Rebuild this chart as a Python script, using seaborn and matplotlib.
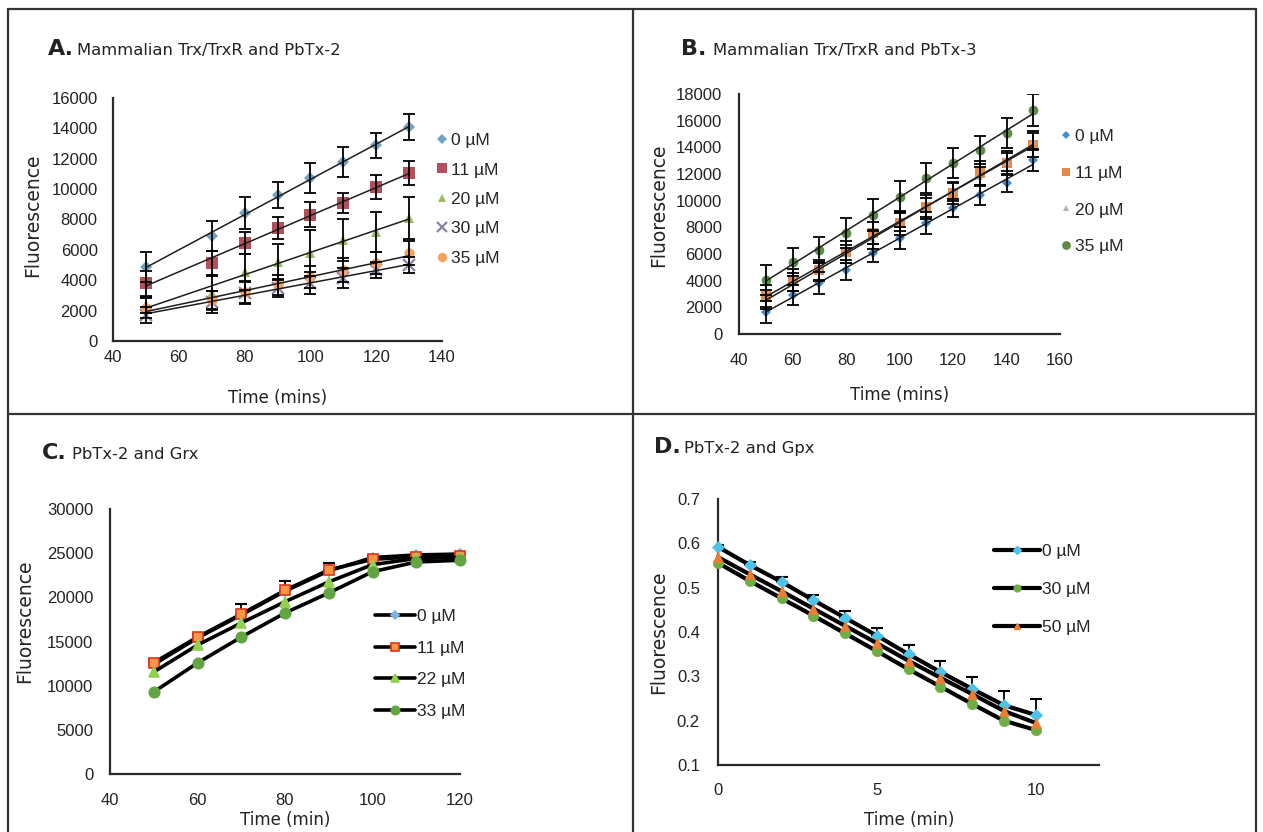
import numpy as np
import matplotlib
matplotlib.use('Agg')
import matplotlib.pyplot as plt
import seaborn as sns
from matplotlib.lines import Line2D

sns.set_style('white')
plt.rcParams['font.family'] = ['Liberation Sans', 'DejaVu Sans']

# ---- A. Mammalian Trx/TrxR and PbTx-2 ----
time_a = [50, 70, 80, 90, 100, 110, 120, 130]
labels_a = ['0 µM', '11 µM', '20 µM', '30 µM', '35 µM']
a_0uM = [4870, 6910, 8430, 9610, 10730, 11790, 12900, 14090]
a_11uM = [3810, 5130, 6450, 7440, 8300, 9090, 10140, 11060]
a_20uM = [2370, 3160, 4540, 5200, 5790, 6650, 7180, 8100]
a_30uM = [1710, 2570, 3160, 3490, 3820, 4150, 4670, 5000]
a_35uM = [2170, 2700, 3230, 3690, 4210, 4670, 5130, 5790]
a_err_0uM = [990, 960, 1050, 850, 990, 990, 820, 860]
a_err_11uM = [820, 770, 710, 710, 820, 680, 770, 820]
a_err_20uM = [500, 1150, 1200, 1200, 1540, 1370, 1310, 1370]
a_err_30uM = [550, 700, 750, 600, 700, 650, 550, 500]
a_err_35uM = [650, 600, 700, 650, 700, 800, 700, 800]

# ---- B. Mammalian Trx/TrxR and PbTx-3 ----
time_b = [50, 60, 70, 80, 90, 100, 110, 120, 130, 140, 150]
labels_b = ['0 µM', '11 µM', '20 µM', '35 µM']
b_0uM = [1650, 2930, 3820, 4800, 6070, 7200, 8320, 9450, 10420, 11320, 13050]
b_11uM = [2850, 4050, 4800, 6150, 7570, 8320, 9530, 10550, 12070, 12820, 14180]
b_20uM = [2600, 3900, 4700, 6000, 7100, 8400, 9500, 10700, 11800, 12900, 14500]
b_35uM = [4050, 5400, 6300, 7570, 8930, 10300, 11700, 12820, 13800, 15070, 16800]
b_err_0uM = [800, 750, 800, 750, 700, 800, 800, 700, 750, 700, 800]
b_err_11uM = [800, 800, 750, 800, 800, 900, 900, 800, 900, 900, 900]
b_err_20uM = [700, 700, 700, 700, 700, 700, 700, 700, 700, 700, 700]
b_err_35uM = [1150, 1050, 1000, 1100, 1200, 1150, 1100, 1100, 1050, 1150, 1200]

# ---- C. PbTx-2 and Grx ----
time_c = [50, 60, 70, 80, 90, 100, 110, 120]
labels_c = ['0 µM', '11 µM', '22 µM', '33 µM']
c_0uM = [12400, 15400, 18000, 20700, 23000, 24500, 24800, 24900]
c_11uM = [12600, 15500, 18100, 20800, 23100, 24300, 24600, 24700]
c_22uM = [11550, 14600, 17100, 19500, 21750, 23700, 24400, 24500]
c_33uM = [9290, 12570, 15500, 18230, 20500, 22900, 24000, 24200]
c_err_11uM = [300, 400, 1100, 1100, 800, 400, 300, 300]

# ---- D. PbTx-2 and Gpx ----
time_d = [0, 1, 2, 3, 4, 5, 6, 7, 8, 9, 10]
labels_d = ['0 µM', '30 µM', '50 µM']
d_0uM = [0.592, 0.551, 0.513, 0.472, 0.432, 0.392, 0.350, 0.310, 0.272, 0.235, 0.213]
d_30uM = [0.556, 0.515, 0.476, 0.437, 0.397, 0.357, 0.316, 0.277, 0.238, 0.200, 0.179]
d_50uM = [0.569, 0.530, 0.492, 0.453, 0.414, 0.375, 0.335, 0.297, 0.260, 0.222, 0.195]
d_err_0uM = [0.005, 0.008, 0.010, 0.012, 0.015, 0.018, 0.020, 0.024, 0.027, 0.032, 0.036]

W, H = 1263, 832
fig = plt.figure(figsize=(W / 100, H / 100), dpi=100)


def px_axes(l, t, r, b):
    ax = fig.add_axes([l / W, 1 - b / H, (r - l) / W, (b - t) / H])
    ax.px = (l, t, r, b)
    return ax


def to_ax(ax, px, py):
    l, t, r, b = ax.px
    return (px - l) / (r - l), (b - py) / (b - t)


def style_axes(ax, xlim, ylim, xticks, yticks, xlabel, xlab_pos, ylab_pos, xpad, ypad):
    ax.set_xlim(xlim)
    ax.set_ylim(ylim)
    ax.set_xticks(xticks)
    ax.set_yticks(yticks)
    for s in ['top', 'right']:
        ax.spines[s].set_visible(False)
    for s in ['left', 'bottom']:
        ax.spines[s].set_linewidth(1.6)
        ax.spines[s].set_color('#2a2a2a')
    ax.tick_params(length=0, labelsize=12, colors='#222222')
    ax.tick_params(axis='x', pad=xpad)
    ax.tick_params(axis='y', pad=ypad)
    ax.set_xlabel(xlabel, fontsize=12, family='DejaVu Sans', color='#222222', va='center')
    ax.set_ylabel('Fluorescence', fontsize=13.5, family='DejaVu Sans', color='#222222',
                  va='center', ha='center')
    ax.xaxis.set_label_coords(*to_ax(ax, *xlab_pos))
    ax.yaxis.set_label_coords(*to_ax(ax, *ylab_pos))
    ax.grid(False)


def panel_title(x_letter, x_text, y, letter, text):
    fig.text(x_letter / W, 1 - y / H, letter, fontsize=16, fontweight='bold',
             family='DejaVu Sans', va='baseline', color='#222222')
    fig.text(x_text / W, 1 - y / H, text, fontsize=11.8, family='DejaVu Sans',
             va='baseline', color='#222222')


def legend_at(ax, handles, labels, x, y, spacing, hlen, tpad):
    ax.legend(handles, labels, loc='upper left', bbox_to_anchor=(x / W, 1 - y / H),
              bbox_transform=fig.transFigure, frameon=False, fontsize=12.5,
              borderpad=0, borderaxespad=0, labelspacing=spacing,
              handlelength=hlen, handletextpad=tpad)


def trend_panel(ax, x, series, errs, colors, markers, sizes):
    handles = []
    for y, e, c, m, s in zip(series, errs, colors, markers, sizes):
        sns.regplot(x=x, y=y, ax=ax, scatter=False, ci=None, truncate=True,
                    color='#1e1e1e', line_kws={'lw': 1.1, 'zorder': 3})
        mew = 1.6 if m == 'x' else 0
        ax.plot(x, y, linestyle='none', marker=m, ms=s, color=c, mec=c, mew=mew, zorder=2)
        ax.errorbar(x, y, yerr=e, fmt='none', ecolor='black', elinewidth=1.3,
                    capsize=4.5, capthick=1.3, zorder=4)
        handles.append(Line2D([], [], linestyle='none', marker=m, ms=s * 0.9, color=c,
                              mec=c, mew=mew))
    return handles


# ---------------- Panel A ----------------
ax_a = px_axes(113, 98, 442, 341)
colors_a = ['#72a2bf', '#b4505a', '#9bbb59', '#8c82aa', '#f5a35e']
markers_a = ['D', 's', '^', 'x', 'o']
sizes_a = [6, 8, 7, 8, 7.5]
h_a = trend_panel(ax_a, time_a, [a_0uM, a_11uM, a_20uM, a_30uM, a_35uM],
                  [a_err_0uM, a_err_11uM, a_err_20uM, a_err_30uM, a_err_35uM],
                  colors_a, markers_a, sizes_a)
style_axes(ax_a, (40, 140), (0, 16000), range(40, 141, 20), range(0, 16001, 2000),
           'Time (mins)', (278, 398), (33, 215), 6.5, 11)
legend_at(ax_a, h_a, labels_a, 435, 133, 0.82, 0.8, 0.15)
panel_title(48, 77, 55, 'A.', 'Mammalian Trx/TrxR and PbTx-2')

# ---------------- Panel B ----------------
ax_b = px_axes(739, 94, 1060, 334)
colors_b = ['#3f8fd0', '#e38c4c', '#b3b3b3', '#5e8c46']
markers_b = ['D', 's', '^', 'o']
sizes_b = [5, 7, 5, 7]
h_b = trend_panel(ax_b, time_b, [b_0uM, b_11uM, b_20uM, b_35uM],
                  [b_err_0uM, b_err_11uM, b_err_20uM, b_err_35uM],
                  colors_b, markers_b, sizes_b)
style_axes(ax_b, (40, 160), (0, 18000), range(40, 161, 20), range(0, 18001, 2000),
           'Time (mins)', (900, 395), (659, 205), 13.5, 12)
legend_at(ax_b, h_b, labels_b, 1059, 129, 1.24, 0.8, 0.15)
panel_title(681, 713, 55, 'B.', 'Mammalian Trx/TrxR and PbTx-3')

# ---------------- Panel C ----------------
ax_c = px_axes(110, 509, 460, 774)
colors_c = ['#7fb2e3', '#f79646', '#92d050', '#63a443']
edges_c = ['#7fb2e3', '#e2341d', '#92d050', '#63a443']
markers_c = ['D', 's', '^', 'o']
sizes_c = [5, 7, 6.5, 7.5]
h_c = []
for y, fc, ec, m, s in zip([c_0uM, c_11uM, c_22uM, c_33uM], colors_c, edges_c, markers_c, sizes_c):
    sns.lineplot(x=time_c, y=y, ax=ax_c, color='black', lw=2.6, marker=m, ms=s,
                 markerfacecolor=fc, markeredgecolor=ec, markeredgewidth=1.2, zorder=3,
                 clip_on=False)
    h_c.append(Line2D([], [], color='black', lw=2.6, marker=m, ms=s * 0.8,
                      markerfacecolor=fc, markeredgecolor=ec, markeredgewidth=1.2))
ax_c.errorbar(time_c, c_11uM, yerr=[np.zeros(len(c_err_11uM)), c_err_11uM], fmt='none',
              ecolor='black', elinewidth=1.3, capsize=4.5, capthick=1.5, zorder=2)
style_axes(ax_c, (40, 120), (0, 30000), range(40, 121, 20), range(0, 30001, 5000),
           'Time (min)', (285, 820), (25, 621), 13.5, 12)
legend_at(ax_c, h_c, labels_c, 375, 609, 0.95, 2.3, 0.1)
panel_title(42, 72, 459, 'C.', 'PbTx-2 and Grx')

# ---------------- Panel D ----------------
ax_d = px_axes(718, 499, 1099, 765)
colors_d = ['#4bc3ea', '#70ad47', '#ed7d31']
markers_d = ['D', 'o', '^']
sizes_d = [6, 7.5, 7]
h_d = []
for y, c, m, s in zip([d_0uM, d_30uM, d_50uM], colors_d, markers_d, sizes_d):
    sns.lineplot(x=time_d, y=y, ax=ax_d, color='black', lw=3.0, marker=m, ms=s,
                 markerfacecolor=c, markeredgecolor=c, markeredgewidth=0.5, zorder=3,
                 clip_on=False)
    h_d.append(Line2D([], [], color='black', lw=3.0, marker=m, ms=s * 0.65,
                      markerfacecolor=c, markeredgecolor=c))
ax_d.errorbar(time_d, d_0uM, yerr=[np.zeros(len(d_err_0uM)), d_err_0uM], fmt='none',
              ecolor='black', elinewidth=1.3, capsize=4.5, capthick=1.5, zorder=2)
style_axes(ax_d, (0, 12), (0.1, 0.7), [0, 5, 10], np.round(np.arange(0.1, 0.71, 0.1), 1),
           'Time (min)', (909, 820), (659, 632), 13, 13)
legend_at(ax_d, h_d, labels_d, 994, 544, 1.31, 2.65, 0.1)
panel_title(654, 684, 453, 'D.', 'PbTx-2 and Gpx')

# ---------------- panel frame ----------------
frame = dict(transform=fig.transFigure, color='#333333', lw=1.6)
for (x0, y0, x1, y1) in [(8, 9, 1256, 9), (8, 9, 8, 832), (1256, 9, 1256, 832),
                         (633, 9, 633, 832), (8, 414, 1256, 414)]:
    fig.add_artist(Line2D([x0 / W, x1 / W], [1 - y0 / H, 1 - y1 / H], **frame))

fig.savefig('out.png', dpi=100)
